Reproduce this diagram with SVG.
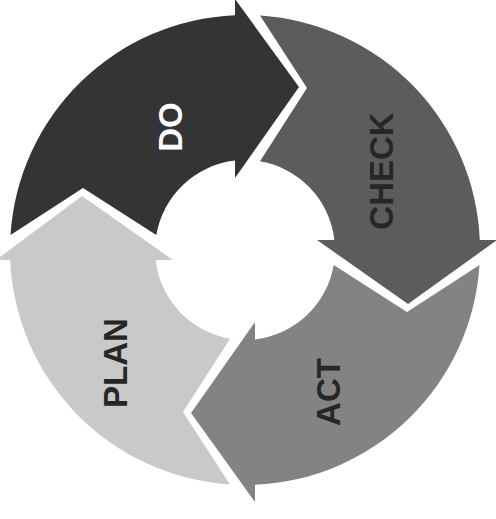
<svg xmlns="http://www.w3.org/2000/svg" width="496" height="519" viewBox="0 0 496 519">
  <style>
    .seg { stroke: none; }
    .lbl { font-family: "Liberation Sans", Arial, sans-serif; font-weight: bold; font-size: 33px; text-anchor: middle; }
    .dark { fill: #262626; }
  </style>
  <rect x="0" y="0" width="496" height="519" fill="#ffffff"/>
  <g id="do">
    <path class="seg" fill="#343434" d="M10.5,235 A235,235 0 0 1 235,15.2 L235,-1 L299,87 L235,178 L235,160.6 A90,90 0 0 0 156.3,235 L83,188 Z"/>
    <text class="lbl" fill="#ffffff" transform="translate(170,127) rotate(-90)" x="0" y="12">DO</text>
  </g>
  <g id="check">
    <path class="seg" fill="#5c5c5c" d="M260,15.5 A235,235 0 0 1 479.8,240 L497,240 L408,304 L317,240 L334.4,240 A90,90 0 0 0 260,161.3 L307,88 Z"/>
    <text class="lbl dark" transform="translate(381,171) rotate(-90)" x="0" y="12">CHECK</text>
  </g>
  <g id="act">
    <path class="seg" fill="#838383" d="M479.5,265 A235,235 0 0 1 255,484.8 L255,502 L191,413 L255,322 L255,339.4 A90,90 0 0 0 333.7,265 L407,312 Z"/>
    <text class="lbl dark" transform="translate(328,392) rotate(-90)" x="0" y="12">ACT</text>
  </g>
  <g id="plan">
    <path class="seg" fill="#c9c9c9" d="M230,484.5 A235,235 0 0 1 10.2,260 L-4,260 L82,196 L173,260 L155.6,260 A90,90 0 0 0 230,338.7 L183,412 Z"/>
    <text class="lbl dark" transform="translate(115,363) rotate(-90)" x="0" y="12">PLAN</text>
  </g>
</svg>
